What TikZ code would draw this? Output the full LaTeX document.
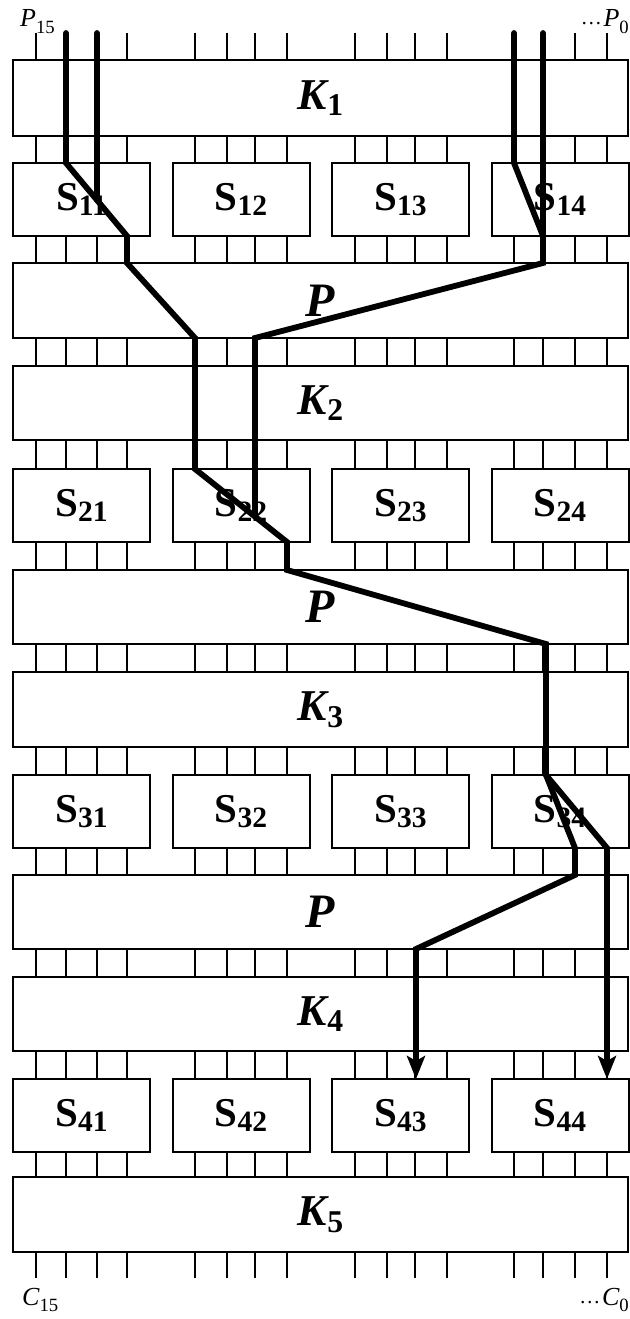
\documentclass[tikz,border=0pt]{standalone}
\usepackage{fontspec}
\setmainfont{Liberation Serif}
\usetikzlibrary{calc,arrows.meta}

% lowered, reduced index after a symbol
\newcommand\lowtxt[2]{\raisebox{-#1}{\scalebox{0.72}{#2}}}
% key / permutation label (bold italic letter, bold upright index)
\newcommand\klabel[2]{\fontsize{44}{44}\selectfont\bfseries\itshape #1\lowtxt{0.15em}{\upshape #2}}
\newcommand\plabel{\fontsize{48}{48}\selectfont\bfseries\itshape P}
% S-box label
\newcommand\slabel[1]{\fontsize{41}{41}\selectfont\bfseries S\lowtxt{0.13em}{#1}}
% plaintext / ciphertext terminal labels
\newcommand\tlabel[2]{\fontsize{26}{26}\selectfont\itshape #1\lowtxt{0.24em}{\upshape #2}}
\newcommand\tdots{\raisebox{0.2em}{\fontsize{21}{21}\selectfont\upshape …}}

\begin{document}
\begin{tikzpicture}[x=1pt,y=-1pt,
  box/.style={draw,line width=2pt,anchor=north west,inner sep=0pt,outer sep=0pt,fill=white},
  wide/.style={box,minimum width=615pt},
  sbox/.style={box,minimum width=137pt,minimum height=73pt},
  tick/.style={line width=2pt},
  trail/.style={line width=5.8pt,line cap=round,line join=miter},
  tip/.style={-{Stealth[length=23pt,width=18pt,inset=5pt]}},
  term/.style={inner sep=0pt}]

\useasboundingbox (0,0) rectangle (629,1319);

% wire stubs between the layers
\foreach \t/\b in {33/60,136/163,236/263,338/366,440/469,542/570,644/672,
                   747/775,848/875,949/977,1051/1079,1151/1177,1252/1278}
  \foreach \x in {36,66,97,127,195,227,255,287,355,387,415,447,514,543,575,607}
    \draw[tick] (\x,\t) -- (\x,\b);

% key mixing and permutation layers
\node[wide,minimum height=76pt] (K1) at (13,60)   {\klabel{K}{1}};
\node[wide,minimum height=75pt] (P1) at (13,263)  {\plabel};
\node[wide,minimum height=74pt] (K2) at (13,366)  {\klabel{K}{2}};
\node[wide,minimum height=74pt] (P2) at (13,570)  {\plabel};
\node[wide,minimum height=75pt] (K3) at (13,672)  {\klabel{K}{3}};
\node[wide,minimum height=74pt] (P3) at (13,875)  {\plabel};
\node[wide,minimum height=74pt] (K4) at (13,977)  {\klabel{K}{4}};
\node[wide,minimum height=75pt] (K5) at (13,1177) {\klabel{K}{5}};

% S-box rows
\foreach \r/\y in {1/163,2/469,3/775,4/1079}
  \foreach \c/\x in {1/13,2/172.5,3/332,4/491.5}
    \node[sbox] (S\r\c) at (\x,\y) {\slabel{\r\c}};

% terminals
\node[term,anchor=base west] (p15) at (20,27)   {\tlabel{P}{15}};
\node[term,anchor=base east] (p0)  at (629,27)  {\tdots\,\tlabel{P}{0}};
\node[term,anchor=base west] (c15) at (22,1305) {\tlabel{C}{15}};
\node[term,anchor=base east] (c0)  at (629,1305){\tdots\,\tlabel{C}{0}};

% active bit trail
\coordinate (a0) at (66,33);
\coordinate (a1) at (66,163);
\coordinate (a2) at (127,236);
\coordinate (a3) at (127,263);
\coordinate (a4) at (195,338);
\coordinate (a5) at (195,469);
\coordinate (a6) at (287,542);
\coordinate (a7) at (287,570);
\coordinate (a8) at (546,644);
\coordinate (a9) at (546,775);
\coordinate (b1) at (575,848);
\coordinate (b2) at (575,875);
\coordinate (b3) at (416,949);
\coordinate (c1) at (607,848);
\coordinate (e0) at (97,33);
\coordinate (d0) at (514,33);
\coordinate (d1) at (514,163);
\coordinate (f0) at (543,33);
\coordinate (f1) at (543,236);
\coordinate (f2) at (543,263);
\coordinate (f3) at (255,338);

\draw[trail] (a0) -- (a1) -- (a2) -- (a3) -- (a4) -- (a5) -- (a6) -- (a7) -- (a8) -- (a9);
\draw[trail] (e0) -- ($(a1)!31/61!(a2)$);
\draw[trail] (d0) -- (d1) -- (f1);
\draw[trail] (f0) -- (f2) -- (f3) -- ($(a5)!60/92!(a6)$);
\draw[trail,tip] (a9) -- (b1) -- (b2) -- (b3) -- (b3 |- S43.north);
\draw[trail,tip] (a9) -- (c1) -- (c1 |- S44.north);
\end{tikzpicture}
\end{document}
